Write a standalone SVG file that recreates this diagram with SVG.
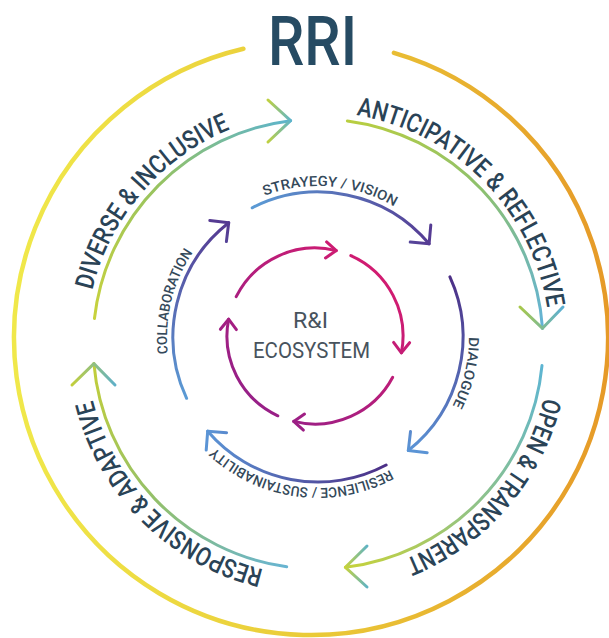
<svg xmlns="http://www.w3.org/2000/svg" width="609" height="638" viewBox="0 0 609 638">
<defs>
<style>
.lbl{font-family:Roboto,"Liberation Sans",sans-serif;fill:#2A4356;font-weight:500;}
.big{font-size:26px;}
.mid{font-size:14px;fill:#34495A;}
.arc{fill:none;stroke-width:3;stroke-linecap:round;stroke-linejoin:round;}
</style>
<linearGradient id="gOuter" gradientUnits="userSpaceOnUse" x1="16" y1="300" x2="606" y2="300">
<stop offset="0" stop-color="#F0E84A"/><stop offset="0.5" stop-color="#EACB38"/><stop offset="1" stop-color="#E69A28"/>
</linearGradient>
<linearGradient id="gDiv" gradientUnits="userSpaceOnUse" x1="94" y1="318" x2="290" y2="121">
<stop offset="0" stop-color="#C8D23C"/><stop offset="0.5" stop-color="#97C360"/><stop offset="1" stop-color="#5DB4CC"/>
</linearGradient>
<linearGradient id="gAnt" gradientUnits="userSpaceOnUse" x1="347" y1="121" x2="542" y2="328">
<stop offset="0" stop-color="#B9CE3F"/><stop offset="0.5" stop-color="#8DC06E"/><stop offset="1" stop-color="#62B3D8"/>
</linearGradient>
<linearGradient id="gOpen" gradientUnits="userSpaceOnUse" x1="542" y1="366" x2="345" y2="567">
<stop offset="0" stop-color="#5DB5D2"/><stop offset="0.5" stop-color="#8EC28A"/><stop offset="1" stop-color="#C6D23A"/>
</linearGradient>
<linearGradient id="gResp" gradientUnits="userSpaceOnUse" x1="287" y1="567" x2="94" y2="364">
<stop offset="0" stop-color="#67B4D2"/><stop offset="0.5" stop-color="#93C06A"/><stop offset="1" stop-color="#C2CE3A"/>
</linearGradient>
<linearGradient id="hDiv" gradientUnits="userSpaceOnUse" x1="268" y1="0" x2="291" y2="0">
<stop offset="0" stop-color="#BFD040"/><stop offset="1" stop-color="#5DB4CC"/>
</linearGradient>
<linearGradient id="hAnt" gradientUnits="userSpaceOnUse" x1="520" y1="0" x2="563" y2="0">
<stop offset="0" stop-color="#A8C84A"/><stop offset="1" stop-color="#5AAFD5"/>
</linearGradient>
<linearGradient id="hOpen" gradientUnits="userSpaceOnUse" x1="367" y1="0" x2="345" y2="0">
<stop offset="0" stop-color="#5FB3C4"/><stop offset="1" stop-color="#C8D33A"/>
</linearGradient>
<linearGradient id="hResp" gradientUnits="userSpaceOnUse" x1="72" y1="0" x2="115" y2="0">
<stop offset="0" stop-color="#C3CF3A"/><stop offset="1" stop-color="#5FB0C8"/>
</linearGradient>
<linearGradient id="gStr" gradientUnits="userSpaceOnUse" x1="252" y1="208" x2="432" y2="240">
<stop offset="0" stop-color="#5B9BD5"/><stop offset="1" stop-color="#553A92"/>
</linearGradient>
<linearGradient id="gDia" gradientUnits="userSpaceOnUse" x1="450" y1="277" x2="410" y2="452">
<stop offset="0" stop-color="#4C2F86"/><stop offset="1" stop-color="#5B95D6"/>
</linearGradient>
<linearGradient id="gRes" gradientUnits="userSpaceOnUse" x1="386" y1="465" x2="206" y2="435">
<stop offset="0" stop-color="#4C2F86"/><stop offset="1" stop-color="#5B95D6"/>
</linearGradient>
<linearGradient id="gCol" gradientUnits="userSpaceOnUse" x1="187" y1="398" x2="226" y2="226">
<stop offset="0" stop-color="#5B9BD5"/><stop offset="1" stop-color="#553A92"/>
</linearGradient>
<linearGradient id="gMag" gradientUnits="userSpaceOnUse" x1="240" y1="410" x2="395" y2="260">
<stop offset="0" stop-color="#922089"/><stop offset="1" stop-color="#D81B6E"/>
</linearGradient>
<path id="pDiv" d="M92.3,290.2 A232,232 0 0 1 268.6,117.3"/>
<path id="pAnt" d="M356.3,115.2 A232,232 0 0 1 550.0,348.0"/>
<path id="pOpen" d="M543.8,397.4 A232,232 0 0 1 366.2,570.9"/>
<path id="pResp" d="M263.4,569.5 A232,232 0 0 1 86.6,360.2"/>
<path id="pStr" d="M264.6,195.7 A151,151 0 0 1 415.7,221.8"/>
<path id="pDia" d="M469,337 A151,151 0 0 1 438.6,427.9"/>
<path id="pRes" d="M389.8,469.8 A151,151 0 0 1 197.4,427.9"/>
<path id="pCol" d="M167.9,353.8 A151,151 0 0 1 209.4,232.1"/>
</defs>
<rect width="609" height="638" fill="#FFFFFF"/>

<g id="title">
<text x="312.5" y="65" text-anchor="middle" font-family="Roboto,'Liberation Sans',sans-serif" font-weight="500" font-size="68" fill="#264B63" textLength="89" lengthAdjust="spacingAndGlyphs">RRI</text>
</g>

<g id="connectors">
<path id="outer-ring" d="M393.9,52.8 A297,297 0 1 1 243.4,48.8" fill="none" stroke="url(#gOuter)" stroke-width="4.5" stroke-linecap="round"/>
<path class="arc" stroke="url(#gDiv)" d="M94.45,318.5 A225,225 0 0 1 290.6,120.7"/>
<polyline class="arc" stroke="url(#hDiv)" points="268,100 290.6,120.7 268,142"/>
<path class="arc" stroke="url(#gAnt)" d="M347.4,120.9 A225,225 0 0 1 542.5,328.3"/>
<polyline class="arc" stroke="url(#hAnt)" points="520,307 542.5,328.3 563,307"/>
<path class="arc" stroke="url(#gOpen)" d="M542.0,365.6 A225,225 0 0 1 345.4,567.3"/>
<polyline class="arc" stroke="url(#hOpen)" points="367,546 345.4,567.3 367,587"/>
<path class="arc" stroke="url(#gResp)" d="M286.7,566.8 A225,225 0 0 1 93.9,363.6"/>
<polyline class="arc" stroke="url(#hResp)" points="72,385 93.9,363.6 115,385"/>

<path class="arc" stroke="url(#gStr)" d="M252.2,207.8 A145,145 0 0 1 429.1,243.8"/>
<polyline class="arc" stroke="url(#gStr)" points="430.8,224.9 429.1,243.8 410.2,242.1"/>
<path class="arc" stroke="url(#gDia)" d="M449.9,276.9 A145,145 0 0 1 408.3,450.5"/>
<polyline class="arc" stroke="url(#gDia)" points="427.2,452.7 408.3,450.5 410.5,431.6"/>
<path class="arc" stroke="url(#gRes)" d="M386.1,465.0 A145,145 0 0 1 207.7,431.2"/>
<polyline class="arc" stroke="url(#gRes)" points="206.2,450.1 207.7,431.2 226.6,432.7"/>
<path class="arc" stroke="url(#gCol)" d="M186.6,398.3 A145,145 0 0 1 228.7,222.7"/>
<polyline class="arc" stroke="url(#gCol)" points="209.8,220.4 228.7,222.7 226.4,241.6"/>

<path class="arc" stroke="url(#gMag)" d="M236.2,296.7 A88,88 0 0 1 336.3,250.6"/>
<polyline class="arc" stroke="url(#gMag)" points="326.6,241.9 336.3,250.6 325.5,257.9"/>
<path class="arc" stroke="url(#gMag)" d="M350.8,255.6 A88,88 0 0 1 401.4,352.8"/>
<polyline class="arc" stroke="url(#gMag)" points="393.6,342.4 401.4,352.8 409.6,342.7"/>
<path class="arc" stroke="url(#gMag)" d="M392.7,377.3 A88,88 0 0 1 293.7,421.4"/>
<polyline class="arc" stroke="url(#gMag)" points="304.5,414.1 293.7,421.4 303.4,430.1"/>
<path class="arc" stroke="url(#gMag)" d="M277.8,415.8 A88,88 0 0 1 228.6,319.2"/>
<polyline class="arc" stroke="url(#gMag)" points="236.4,329.6 228.6,319.2 220.4,329.3"/>
</g>

<g id="diverse-inclusive"><text class="lbl big"><textPath href="#pDiv" textLength="220" lengthAdjust="spacingAndGlyphs">DIVERSE &amp; INCLUSIVE</textPath></text></g>
<g id="anticipative-reflective"><text class="lbl big"><textPath href="#pAnt" textLength="289.5" lengthAdjust="spacingAndGlyphs">ANTICIPATIVE &amp; REFLECTIVE</textPath></text></g>
<g id="open-transparent"><text class="lbl big"><textPath href="#pOpen" textLength="221.5" lengthAdjust="spacingAndGlyphs">OPEN &amp; TRANSPARENT</textPath></text></g>
<g id="responsive-adaptive"><text class="lbl big"><textPath href="#pResp" textLength="252.7" lengthAdjust="spacingAndGlyphs">RESPONSIVE &amp; ADAPTIVE</textPath></text></g>

<g id="strategy-vision"><text class="lbl mid"><textPath href="#pStr" textLength="134.4" lengthAdjust="spacingAndGlyphs">STRAYEGY / VISION</textPath></text></g>
<g id="dialogue"><text class="lbl mid"><textPath href="#pDia" textLength="71.2" lengthAdjust="spacingAndGlyphs">DIALOGUE</textPath></text></g>
<g id="resilience-sustainability"><text class="lbl mid"><textPath href="#pRes" textLength="188" lengthAdjust="spacingAndGlyphs">RESILIENCE / SUSTAINABILITY</textPath></text></g>
<g id="collaboration"><text class="lbl mid"><textPath href="#pCol" textLength="106.5" lengthAdjust="spacingAndGlyphs">COLLABORATION</textPath></text></g>

<g id="ri-ecosystem">
<text x="310.5" y="328" text-anchor="middle" font-family="Roboto,'Liberation Sans',sans-serif" font-weight="400" font-size="22" fill="#48535D" textLength="35" lengthAdjust="spacingAndGlyphs">R&amp;I</text>
<text x="311.5" y="358" text-anchor="middle" font-family="Roboto,'Liberation Sans',sans-serif" font-weight="400" font-size="22" fill="#48535D" textLength="117" lengthAdjust="spacingAndGlyphs">ECOSYSTEM</text>
</g>
</svg>
